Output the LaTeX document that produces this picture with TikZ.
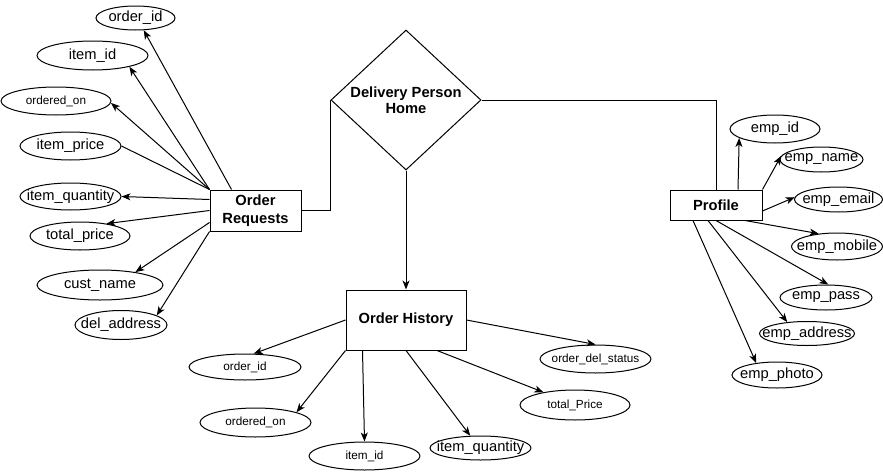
\documentclass[tikz,border=0pt]{standalone}
\usepackage{fontspec}
\setmainfont{Liberation Sans}
\usetikzlibrary{shapes.geometric,arrows.meta}
\begin{document}
\begin{tikzpicture}[x=1pt,y=-1pt,line width=1pt,
  ent/.style={draw, fill=white, inner sep=0pt, align=center, font=\fontsize{14.7}{17.5}\selectfont\bfseries},
  attr/.style 2 args={draw, fill=white, ellipse, inner sep=0pt, minimum width=#1, minimum height=#2},
  lb/.style={font=\fontsize{14.7}{17}\selectfont, inner sep=0pt},
  ls/.style={font=\fontsize{11.75}{14}\selectfont, inner sep=0pt},
  dl/.style={font=\fontsize{14.7}{16.5}\selectfont\bfseries, inner sep=0pt, align=center},
  con/.style={-{Stealth[length=9pt,width=7pt,inset=2.5pt]}},
]
\useasboundingbox (0,0) rectangle (883,471);

% left attributes
\node[attr={79}{24}, label={[lb]center:order\_id}] (a1) at (135.5,18) {};
\node[attr={111}{29}, label={[lb]center:item\_id}] (a2) at (92.5,55.5) {};
\node[attr={110}{28}, label={[ls]center:ordered\_on}] (a3) at (56,101) {};
\node[attr={101}{28}, label={[lb]center:item\_price}] (a4) at (70.5,146) {};
\node[attr={101}{27}, label={[lb]center:item\_quantity}] (a5) at (70.5,196.5) {};
\node[attr={100}{28}, label={[lb]center:total\_price}] (a6) at (80,236) {};
\node[attr={126}{30}, label={[lb]center:cust\_name}] (a7) at (100,285) {};
\node[attr={92}{29}, label={[lb]center:del\_address}] (a8) at (121,325) {};

% entities
\node[ent, minimum width=91, minimum height=41] (OR) at (255.5,210.5) {Order\\Requests};
\node[draw, fill=white, diamond, inner sep=0pt, minimum width=150, minimum height=140,
      label={[dl]center:{Delivery Person\\Home}}] (D) at (406,100) {};
\node[ent, minimum width=92, minimum height=30] (PR) at (716,205) {Profile};
\node[ent, minimum width=120, minimum height=60] (OH) at (406,320) {Order History};

% profile attributes
\node[attr={90}{28}, label={[lb]center:emp\_id}] (p1) at (775,129) {};
\node[attr={83}{25}, label={[lb]center:emp\_name}] (p2) at (821.5,159.5) {};
\node[attr={88}{25}, label={[lb]center:emp\_email}] (p3) at (838.5,199.5) {};
\node[attr={91}{27}, label={[lb]center:emp\_mobile}] (p4) at (837,246.5) {};
\node[attr={92}{25}, label={[lb]center:emp\_pass}] (p5) at (826,297.5) {};
\node[attr={95}{24}, label={[lb]center:emp\_address}] (p6) at (807,333.5) {};
\node[attr={90}{26}, label={[lb]center:emp\_photo}] (p7) at (777,375) {};

% order history attributes
\node[attr={112}{26}, label={[ls]center:order\_id}] (h1) at (245,367) {};
\node[attr={111}{29}, label={[ls]center:ordered\_on}] (h2) at (255.5,422.5) {};
\node[attr={111}{28}, label={[ls]center:item\_id}] (h3) at (364.5,456) {};
\node[attr={101}{24}, label={[lb]center:item\_quantity}] (h4) at (480.5,448) {};
\node[attr={110}{30}, label={[ls]center:total\_Price}] (h5) at (575,405) {};
\node[attr={111}{28}, label={[ls]center:order\_del\_status}] (h6) at (595.5,359) {};

% relationship lines
\draw (OR.east) -| (D.west);
\draw (D.east) -| (PR.north);
\draw[con] (D.south) -- (OH.north);

% order requests arrows
\draw[con] ([xshift=22pt]OR.north west) -- (a1.-56);
\draw[con] (OR.north west) -- (a2.-17);
\draw[con] (OR.north west) -- (a3.-2);
\draw (OR.north west) -- (a4.east);
\draw[con] ([yshift=-10pt]OR.north west) -- (a5.east);
\draw[con] (OR.west) -- (a6.25);
\draw[con] ([yshift=9pt]OR.south west) -- (a7.20);
\draw[con] (OR.south west) -- (a8.15);

% profile arrows
\draw[con] ([xshift=22pt]PR.north) -- (p1.-166);
\draw[con] (PR.north east) -- (p2.175);
\draw[con] ([yshift=-6pt]PR.east) -- (p3.177);
\draw[con] ([xshift=29pt]PR.south) -- (p4.145);
\draw[con] (PR.south) -- (p5.80);
\draw[con] ([xshift=-8pt]PR.south) -- (p6.150);
\draw[con] ([xshift=-23pt]PR.south) -- (p7.150);

% order history arrows
\draw[con] (OH.west) -- (h1.57);
\draw[con] (OH.south west) -- (h2.14);
\draw[con] ([xshift=17pt]OH.south west) -- (h3.north);
\draw[con] (OH.south) -- (h4.130);
\draw[con] ([xshift=31pt]OH.south) -- (h5.158);
\draw[con] (OH.east) -- (h6.north);
\end{tikzpicture}
\end{document}
